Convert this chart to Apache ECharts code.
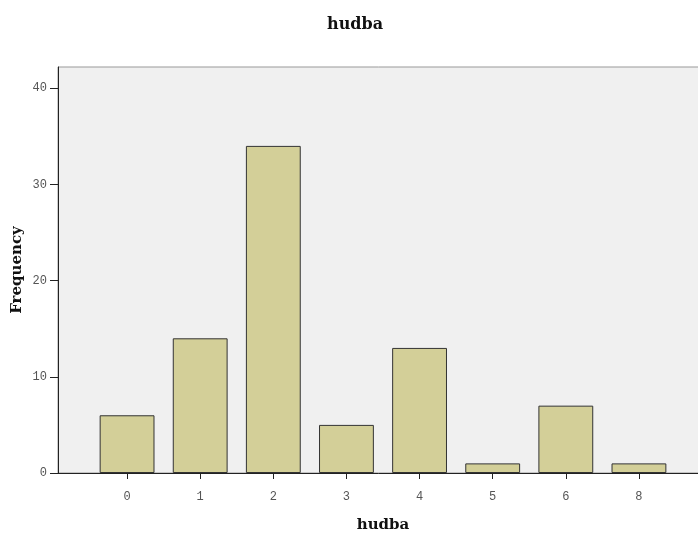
<!DOCTYPE html>
<html><head><meta charset="utf-8">
<script src="https://cdn.jsdelivr.net/npm/echarts@6/dist/echarts.min.js"></script>
<style>html,body{margin:0;padding:0;background:#fff}#c{width:698px;height:535px}</style>
</head><body><div id="c"></div>
<script>
const categories = ['0','1','2','3','4','5','6','8'];
const frequency = [6, 14, 34, 5, 13, 1, 7, 1];
const yTicks = [0, 10, 20, 30, 40];

const chart = echarts.init(document.getElementById('c'));
const serif = 'DejaVu Serif';
const tickFont = {fontFamily: 'Liberation Mono', fontSize: 12, color: '#555'};
chart.setOption({
  animation: false,
  backgroundColor: '#fff',
  title: {text: 'hudba', left: 322, top: 12,
    textStyle: {fontFamily: serif, fontWeight: 'bold', fontSize: 16, color: '#111'}},
  grid: [
    {left: 58, right: -3, top: 67, bottom: 62, outerBoundsMode: 'none', containLabel: false,
     show: true, backgroundColor: '#f0f0f0', borderColor: '#999', borderWidth: 1},
    {left: 90.5, right: 22.5, top: 67, bottom: 62, outerBoundsMode: 'none', containLabel: false}
  ],
  xAxis: [
    {gridIndex: 0, type: 'value', min: 0, max: 1, axisLine: {show: true, lineStyle: {color: '#222', width: 1}},
     axisTick: {show: false}, axisLabel: {show: false}, splitLine: {show: false}},
    {gridIndex: 1, type: 'category', data: categories, axisLine: {show: false},
     axisTick: {show: true, alignWithLabel: true, length: 6, lineStyle: {color: '#222'}},
     axisLabel: {margin: 18, ...tickFont},
     name: 'hudba', nameLocation: 'middle', nameGap: 45,
     nameTextStyle: {fontFamily: serif, fontWeight: 'bold', fontSize: 15, color: '#111'}}
  ],
  yAxis: [
    {gridIndex: 0, type: 'value', min: 0, max: 42.2, interval: 10,
     axisLine: {show: true, lineStyle: {color: '#222', width: 1}},
     axisTick: {show: true, length: 8, lineStyle: {color: '#222'}, customValues: yTicks},
     axisLabel: {margin: 11, customValues: yTicks, ...tickFont},
     splitLine: {show: false},
     name: 'Frequency', nameLocation: 'middle', nameGap: 33, nameMoveOverlap: false, nameRotate: 90,
     nameTextStyle: {fontFamily: serif, fontWeight: 'bold', fontSize: 15, color: '#111'}},
    {gridIndex: 1, type: 'value', min: 0, max: 42.2, show: false}
  ],
  series: [{
    type: 'bar', xAxisIndex: 1, yAxisIndex: 1, data: frequency, barWidth: '75%',
    itemStyle: {color: '#d3cf98', borderColor: '#333', borderWidth: 1}
  }]
});
</script></body></html>
